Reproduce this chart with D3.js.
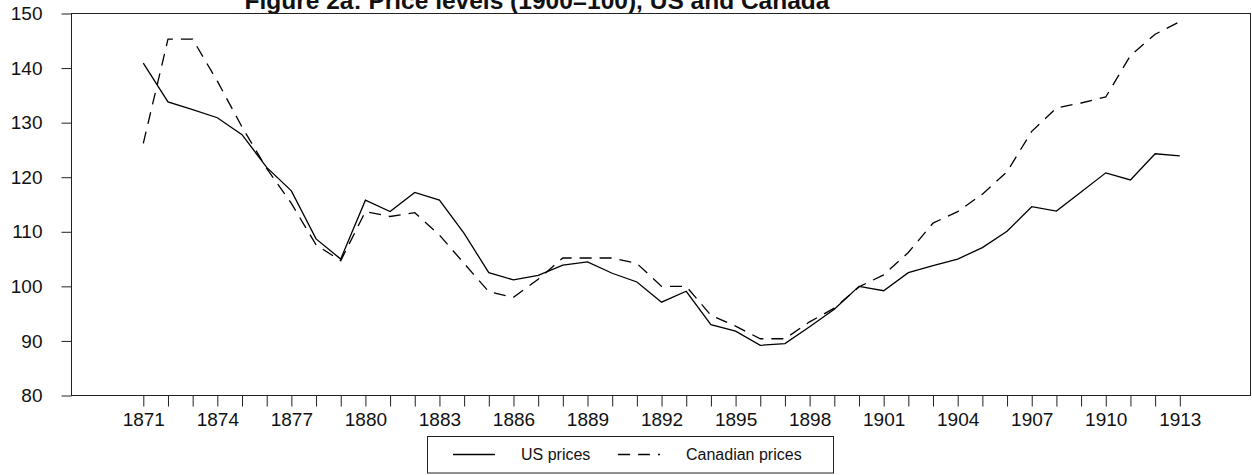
<!DOCTYPE html>
<html>
<head>
<meta charset="utf-8">
<script src="https://cdn.jsdelivr.net/npm/d3@7"></script>
<style>
  body { margin: 0; background: #fff; }
  text { font-family: "Liberation Sans", Arial, sans-serif; fill: #111; }
</style>
</head>
<body>
<div id="chart"></div>
<script>
const years = d3.range(1871, 1914);

// price levels, 1900 = 100
const usPrices = [
  140.9, 133.8, 132.4, 130.9, 127.8, 121.8, 117.5, 108.7, 105.0, 115.8,
  113.7, 117.2, 115.8, 109.7, 102.5, 101.2, 102.0, 103.9, 104.5, 102.4,
  100.8, 97.1, 99.1, 93.0, 91.8, 89.2, 89.5, 92.6, 95.8, 100.0,
  99.2, 102.5, 103.8, 105.0, 107.1, 110.1, 114.6, 113.8, 117.3, 120.8,
  119.5, 124.3, 123.9
];
const canadianPrices = [
  126.2, 145.3, 145.3, 137.6, 129.2, 121.6, 115.2, 107.6, 104.7, 113.7,
  112.8, 113.5, 109.4, 104.2, 99.0, 98.0, 101.3, 105.2, 105.2, 105.2,
  104.2, 100.0, 100.0, 94.7, 92.7, 90.4, 90.4, 93.5, 96.0, 99.9,
  102.1, 106.2, 111.6, 113.7, 116.9, 121.0, 128.4, 132.7, 133.6, 134.7,
  142.3, 146.2, 148.5
];
const yTicks = [80, 90, 100, 110, 120, 130, 140, 150];
const seriesNames = ['US prices', 'Canadian prices'];

const width = 1252, height = 475;
const plot = {left: 71.5, top: 13.5, right: 1250.5, bottom: 395.5};
const dash = '12,8';

const svg = d3.select('#chart')
  .append('svg')
  .attr('width', width)
  .attr('height', height);

const x = d3.scaleLinear().domain([1871, 1913]).range([143.3, 1179.8]);
const y = d3.scaleLinear().domain([80, 150]).range([395.5, 13.5]);

// title sits partly above the top edge, like the cropped original
svg.append('text')
  .attr('x', 537)
  .attr('y', 9)
  .attr('text-anchor', 'middle')
  .style('font-size', '24.5px')
  .style('font-weight', 'bold')
  .text('Figure 2a: Price levels (1900=100), US and Canada');

// y axis
const yAxis = svg.append('g')
  .attr('transform', `translate(${plot.left},0)`)
  .call(d3.axisLeft(y).tickValues(yTicks).tickSize(10).tickPadding(19).tickSizeOuter(0));
yAxis.select('.domain').remove();
yAxis.selectAll('line').attr('stroke', '#222');
yAxis.selectAll('text').style('font-size', '19px').attr('fill', '#111');

// x axis: a tick every year, a label every third year
const xAxis = svg.append('g')
  .attr('transform', `translate(0,${plot.bottom})`)
  .call(d3.axisBottom(x)
    .tickValues(years)
    .tickSize(11)
    .tickPadding(6)
    .tickSizeOuter(0)
    .tickFormat(d => (d - 1871) % 3 === 0 ? d : ''));
xAxis.select('.domain').remove();
xAxis.selectAll('line').attr('stroke', '#222');
xAxis.selectAll('text').style('font-size', '19px').attr('fill', '#111');

// plot frame
svg.append('rect')
  .attr('x', plot.left)
  .attr('y', plot.top)
  .attr('width', plot.right - plot.left)
  .attr('height', plot.bottom - plot.top)
  .attr('fill', 'none')
  .attr('stroke', '#222')
  .attr('stroke-width', 1);

const line = d3.line()
  .x((d, i) => x(years[i]))
  .y(d => y(d));

svg.append('path')
  .datum(usPrices)
  .attr('fill', 'none')
  .attr('stroke', '#000')
  .attr('stroke-width', 1.3)
  .attr('d', line);

svg.append('path')
  .datum(canadianPrices)
  .attr('fill', 'none')
  .attr('stroke', '#000')
  .attr('stroke-width', 1.3)
  .attr('stroke-dasharray', dash)
  .attr('d', line);

// legend
const legend = svg.append('g');
legend.append('rect')
  .attr('x', 427.5)
  .attr('y', 436.5)
  .attr('width', 406)
  .attr('height', 36.5)
  .attr('fill', '#fff')
  .attr('stroke', '#222');

const legendItems = [
  {name: seriesNames[0], x0: 453, dash: null, tx: 521},
  {name: seriesNames[1], x0: 618, dash: dash, tx: 686}
];
legendItems.forEach(item => {
  legend.append('line')
    .attr('x1', item.x0)
    .attr('x2', item.x0 + 42)
    .attr('y1', 454.5)
    .attr('y2', 454.5)
    .attr('stroke', '#000')
    .attr('stroke-width', 1.3)
    .attr('stroke-dasharray', item.dash);
  legend.append('text')
    .attr('x', item.tx)
    .attr('y', 460)
    .style('font-size', '16px')
    .text(item.name);
});
</script>
</body>
</html>
